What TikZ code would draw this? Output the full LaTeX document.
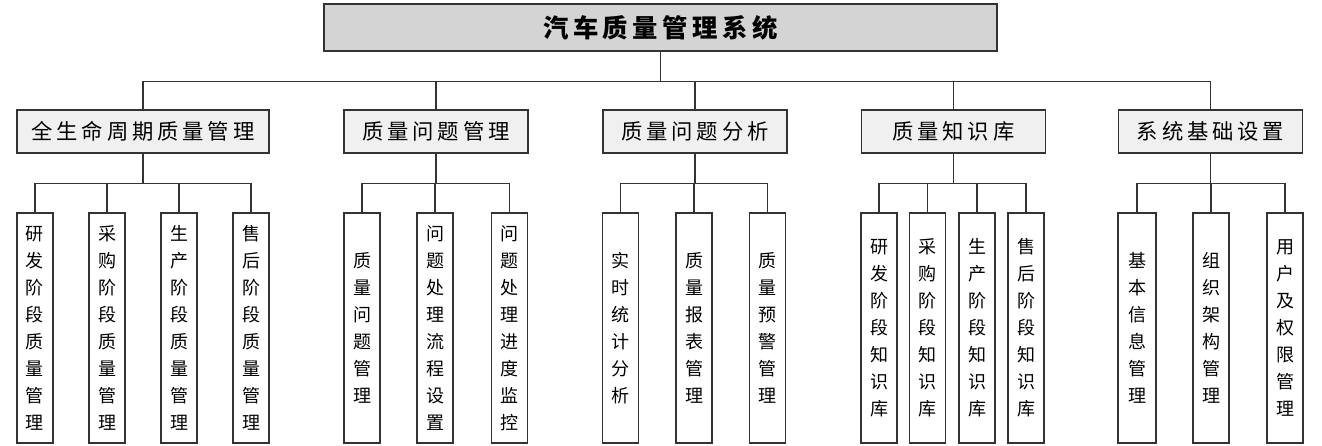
\documentclass[tikz,border=0pt]{standalone}
\usepackage{fontspec}
\setmainfont{Noto Sans CJK SC}
\newfontfamily\cjkwide[LetterSpace=18]{Noto Sans CJK SC}
\usepackage{tikz}

\begin{document}
\begin{tikzpicture}[x=0.75pt,y=-0.75pt,thick,
            link/.style={draw=black!80, line width=1pt}]
            \useasboundingbox (0,0) rectangle (1322,446);

             \tikzstyle{root} = [draw=black!80, line width=1.1pt, fill=black!17, minimum width=504.75pt, minimum height=35.25pt, inner sep=0pt, font=\cjkwide\fontsize{19}{22}\selectfont\bfseries]
             \tikzstyle{mid} = [draw=black!80, line width=1.1pt, fill=black!6, minimum width=138pt, minimum height=32.25pt, inner sep=0pt, font=\cjkwide\fontsize{16}{18}\selectfont]
             \tikzstyle{leaf} = [draw=black!80, line width=1.1pt, fill=white, minimum width=27pt, minimum height=172.5pt, inner sep=0pt, align=center, font=\fontsize{13.5}{20.25}\selectfont]

             \node  [root] at (660.5,27.5) (sys) {汽车质量管理系统};

             \node  [mid, minimum width=189pt] at (143,131.5) (life) {全生命周期质量管理};
             \node  [mid] at (436,131.5) (issue) {质量问题管理};
             \node  [mid] at (695,131.5) (anal) {质量问题分析};
             \node  [mid] at (953.5,131.5) (know) {质量知识库};
             \node  [mid] at (1210.5,131.5) (base) {系统基础设置};

             % full life cycle
             \node  [leaf] at (35,328) (life1) {研\\发\\阶\\段\\质\\量\\管\\理};
             \node  [leaf] at (107,328) (life2) {采\\购\\阶\\段\\质\\量\\管\\理};
             \node  [leaf] at (179,328) (life3) {生\\产\\阶\\段\\质\\量\\管\\理};
             \node  [leaf] at (251,328) (life4) {售\\后\\阶\\段\\质\\量\\管\\理};

             % issues
             \node  [leaf] at (362,328) (issue1) {质\\量\\问\\题\\管\\理};
             \node  [leaf] at (435,328) (issue2) {问\\题\\处\\理\\流\\程\\设\\置};
             \node  [leaf] at (509.5,328) (issue3) {问\\题\\处\\理\\进\\度\\监\\控};

             % analysis
             \node  [leaf] at (620.5,328) (anal1) {实\\时\\统\\计\\分\\析};
             \node  [leaf] at (694,328) (anal2) {质\\量\\报\\表\\管\\理};
             \node  [leaf] at (767.5,328) (anal3) {质\\量\\预\\警\\管\\理};

             % knowledge base
             \node  [leaf] at (879,328) (know1) {研\\发\\阶\\段\\知\\识\\库};
             \node  [leaf] at (927.5,328) (know2) {采\\购\\阶\\段\\知\\识\\库};
             \node  [leaf] at (977,328) (know3) {生\\产\\阶\\段\\知\\识\\库};
             \node  [leaf] at (1026,328) (know4) {售\\后\\阶\\段\\知\\识\\库};

             % basic settings
             \node  [leaf, minimum width=28.5pt] at (1137,328) (base1) {基\\本\\信\\息\\管\\理};
             \node  [leaf] at (1211,328) (base2) {组\\织\\架\\构\\管\\理};
             \node  [leaf] at (1285,328) (base3) {用\\户\\及\\权\\限\\管\\理};

             \foreach \m in {life,issue,anal,know,base}
               \draw [link] (sys.south) -- ++(0,30) -| (\m.north);

             \foreach \c in {life1,life2,life3,life4}
               \draw [link] (life.south) -- ++(0,30) -| (\c.north);
             \foreach \c in {issue1,issue2,issue3}
               \draw [link] (issue.south) -- ++(0,30) -| (\c.north);
             \foreach \c in {anal1,anal2,anal3}
               \draw [link] (anal.south) -- ++(0,30) -| (\c.north);
             \foreach \c in {know1,know2,know3,know4}
               \draw [link] (know.south) -- ++(0,30) -| (\c.north);
             \foreach \c in {base1,base2,base3}
               \draw [link] (base.south) -- ++(0,30) -| (\c.north);
\end{tikzpicture}
\end{document}
